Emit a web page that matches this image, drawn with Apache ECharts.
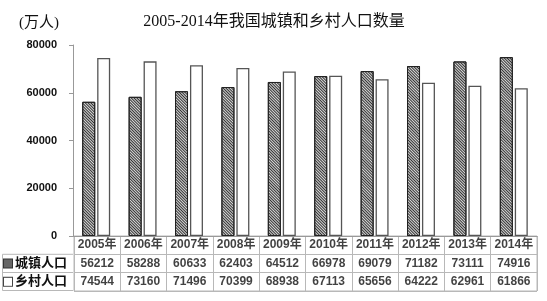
<!DOCTYPE html>
<html>
<head>
<meta charset="utf-8">
<script src="https://cdn.jsdelivr.net/npm/echarts@6/dist/echarts.min.js"></script>
<style>html,body{margin:0;padding:0;background:#fff;}#c{width:547px;height:301px;}</style>
</head>
<body>
<div id="c"></div>
<script>
var years = ['2005年','2006年','2007年','2008年','2009年','2010年','2011年','2012年','2013年','2014年'];
var urban = [56212, 58288, 60633, 62403, 64512, 66978, 69079, 71182, 73111, 74916];
var rural = [74544, 73160, 71496, 70399, 68938, 67113, 65656, 64222, 62961, 61866];
var rowNames = ['', '城镇人口', '乡村人口'];
var yTicks = [0, 20000, 40000, 60000, 80000];

var chart = echarts.init(document.getElementById('c'), null, {renderer: 'canvas'});
var cjk = "'Liberation Sans','Noto Sans CJK SC',sans-serif";
var serif = "'Liberation Serif','Noto Sans CJK SC',serif";

var tableData = [];
years.forEach(function (y, i) {
  tableData.push({value: [i, 0], label: {formatter: y}});
  tableData.push({value: [i, 1], label: {formatter: String(urban[i])}});
  tableData.push({value: [i, 2], label: {formatter: String(rural[i])}});
});

var option = {
  backgroundColor: '#fff',
  animation: false,
  title: [
    {text: '2005-2014年我国城镇和乡村人口数量', left: 269, top: 9, textAlign: 'center',
     textStyle: {fontFamily: serif, fontSize: 16, fontWeight: 'normal', color: '#111'}},
    {text: '(万人)', left: 14, top: 11,
     textStyle: {fontFamily: serif, fontSize: 15, fontWeight: 'normal', color: '#111'}}
  ],
  grid: [
    {left: 73, right: 10, top: 45, height: 191},
    {left: 73, right: 10, top: 236, height: 55, show: true, borderColor: '#b8b8b8', borderWidth: 1}
  ],
  xAxis: [
    {type: 'category', gridIndex: 0, data: years,
     axisLine: {lineStyle: {color: '#999'}}, axisTick: {show: false}, axisLabel: {show: false}},
    {type: 'category', gridIndex: 1, data: years,
     axisLine: {show: false}, axisTick: {show: false}, axisLabel: {show: false},
     splitLine: {show: true, interval: 0, lineStyle: {color: '#b8b8b8', width: 1}}}
  ],
  yAxis: [
    {type: 'value', gridIndex: 0, min: yTicks[0], max: yTicks[yTicks.length - 1], interval: 20000,
     splitLine: {show: false},
     axisLine: {show: true, lineStyle: {color: '#999'}},
     axisTick: {show: true, length: 4, lineStyle: {color: '#999'}},
     axisLabel: {fontFamily: cjk, fontSize: 11, fontWeight: 'bold', color: '#111', margin: 16,
       formatter: function (v) { return String(v); }}},
    {type: 'category', gridIndex: 1, data: rowNames, inverse: true,
     axisLine: {show: false}, axisTick: {show: false},
     splitLine: {show: true, interval: 0, lineStyle: {color: '#b8b8b8', width: 1}},
     axisLabel: {align: 'left', margin: 70, fontFamily: cjk, fontSize: 13, fontWeight: 'bold', color: '#111',
       formatter: function (v) {
         if (v === rowNames[1]) return '{h|}{t|' + v + '}';
         if (v === rowNames[2]) return '{w|}{t|' + v + '}';
         return '';
       },
       rich: {
         h: {width: 8, height: 8, borderColor: '#333', borderWidth: 1, backgroundColor: '#666'},
         w: {width: 8, height: 8, borderColor: '#444', borderWidth: 1, backgroundColor: '#fff'},
         t: {fontFamily: cjk, fontSize: 13, fontWeight: 'bold', color: '#111', padding: [0, 0, 0, 3]}
       }}}
  ],
  series: [
    {type: 'bar', name: '城镇人口', xAxisIndex: 0, yAxisIndex: 0, data: urban,
     barWidth: 13, barGap: '15%',
     itemStyle: {color: '#d8d8d8', borderColor: '#222', borderWidth: 1,
       decal: {symbol: 'rect', symbolSize: 1, dashArrayX: [[1, 0]], dashArrayY: [1, 1],
               rotation: Math.PI / 4, color: '#333'}}},
    {type: 'bar', name: '乡村人口', xAxisIndex: 0, yAxisIndex: 0, data: rural,
     barWidth: 13,
     itemStyle: {color: '#fff', borderColor: '#555', borderWidth: 1.3}},
    {type: 'scatter', xAxisIndex: 1, yAxisIndex: 1, data: tableData, symbolSize: 1,
     itemStyle: {color: 'rgba(0,0,0,0)'}, silent: true,
     label: {show: true, position: 'inside', fontFamily: cjk, fontSize: 12, fontWeight: 'bold', color: '#111'}}
  ],
  graphic: [
    {type: 'polyline', silent: true,
     shape: {points: [[73, 254.3], [2.5, 254.3], [2.5, 290.5], [73, 290.5]]},
     style: {stroke: '#b8b8b8', lineWidth: 1, fill: null}},
    {type: 'line', silent: true, shape: {x1: 2.5, y1: 272.5, x2: 73, y2: 272.5},
     style: {stroke: '#b8b8b8', lineWidth: 1}}
  ]
};
chart.setOption(option);
</script>
</body>
</html>
